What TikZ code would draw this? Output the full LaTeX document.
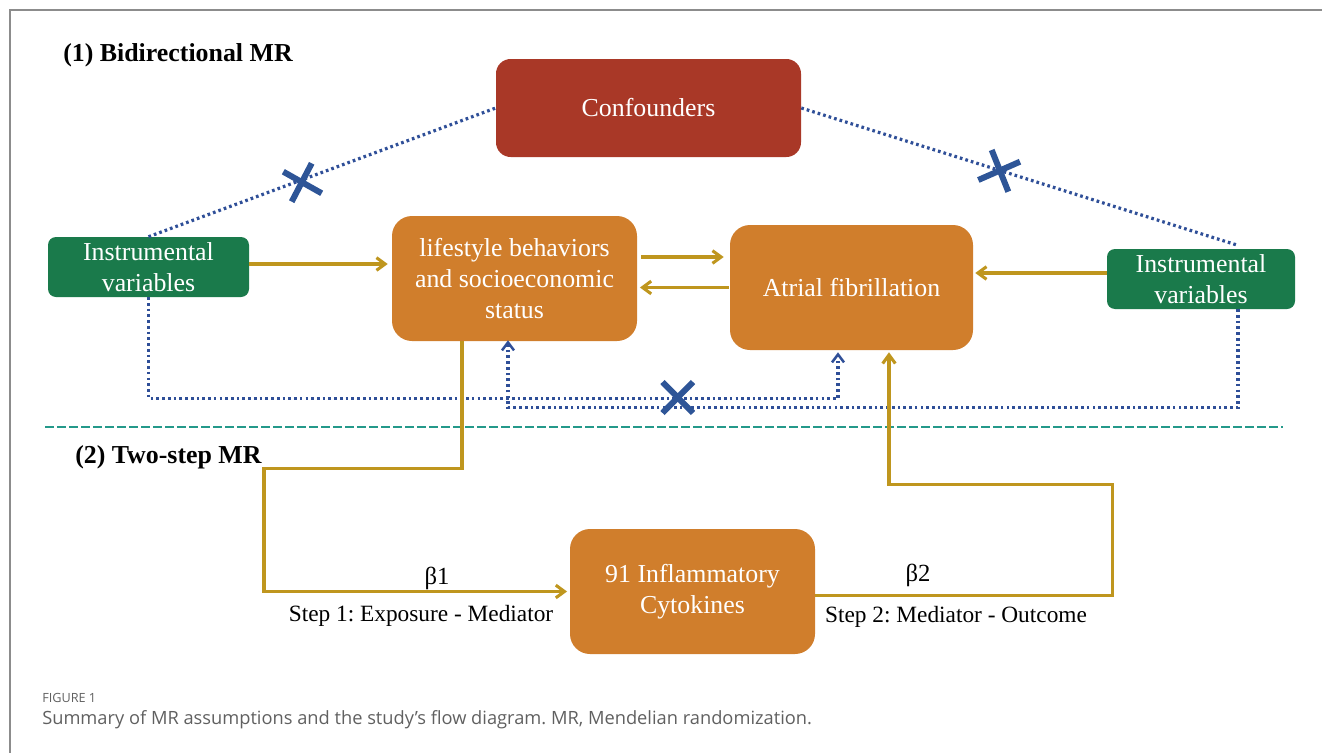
\documentclass[tikz,border=0pt]{standalone}
\usepackage{fontspec}
\setmainfont{Liberation Serif}
\newfontfamily\capfont{Open Sans}
\usetikzlibrary{arrows.meta,calc}
\frenchspacing
\definecolor{confred}{HTML}{A93827}
\definecolor{boxorange}{HTML}{D07E2C}
\definecolor{ivgreen}{HTML}{1A7A4B}
\definecolor{goldline}{HTML}{BF961E}
\definecolor{dotblue}{HTML}{2F4F98}
\definecolor{crossblue}{HTML}{2E5597}
\definecolor{tealline}{HTML}{24998A}
\definecolor{framegray}{HTML}{8C8C8C}
\definecolor{capgray}{HTML}{606060}
\begin{document}
\frenchspacing
\begin{tikzpicture}[x=0.75pt,y=-0.75pt,
  box/.style={rounded corners=#1, inner sep=0pt, text=white, align=center,
    font=\fontsize{19.4}{23.2}\selectfont},
  goldarrow/.style={draw=goldline, line width=2.3pt,
    -{Straight Barb[length=6.5pt,width=9.5pt]}},
  dotline/.style={draw=dotblue, line width=2.4pt, dash pattern=on 2pt off 2.3pt},
  dotarrow/.style={dotline, -{Straight Barb[length=6pt,width=9pt,line width=1.9pt]}},
  crossline/.style={draw=crossblue, line width=4.5pt},
  lbl/.style={inner sep=0pt, font=\fontsize{17.5}{21}\selectfont},
  title/.style={inner sep=0pt, anchor=west, font=\fontsize{19.4}{23}\selectfont\bfseries}
]
\useasboundingbox (0,0) rectangle (1322,753);
\draw[framegray, line width=1.2pt] (10,753) -- (10,10) -- (1322,10);

% nodes
\node[box=11pt, fill=confred, minimum width=305*0.75pt, minimum height=98*0.75pt] (conf) at (648.5,108) {Confounders};
\node[box=6pt, fill=ivgreen, minimum width=201*0.75pt, minimum height=60*0.75pt] (ivL) at (148.5,267) {Instrumental\\variables};
\node[box=15pt, fill=boxorange, minimum width=245*0.75pt, minimum height=125*0.75pt] (life) at (514.5,278.5) {lifestyle behaviors\\and socioeconomic\\status};
\node[box=15pt, fill=boxorange, minimum width=243*0.75pt, minimum height=125*0.75pt] (af) at (851.5,287.5) {Atrial fibrillation};
\node[box=6pt, fill=ivgreen, minimum width=188*0.75pt, minimum height=60*0.75pt] (ivR) at (1201,279) {Instrumental\\variables};
\node[box=15pt, fill=boxorange, minimum width=245*0.75pt, minimum height=125*0.75pt] (cyto) at (692.5,591.5) {91 Inflammatory\\Cytokines};

% titles
\node[title] (t1) at (63,55) {(1) Bidirectional MR};
\node[title] (t2) at (75,457) {(2) Two-step MR};

% separator
\draw[tealline, line width=2.2pt, dash pattern=on 6.5pt off 2.5pt] (45,427) -- (1283,427);

% dotted confounder links
\draw[dotline] (ivL.north) -- (conf.west);
\coordinate (ivRtop) at ($(ivR.north)+(35,-4)$);
\draw[dotline] (conf.east) -- (ivRtop);

% dotted IV links to outcome
\draw[dotarrow] (ivL.south) -- ++(0,101) -| ($(af.south)+(-13.5,2)$);
\coordinate (ivRbot) at ($(ivR.south)+(37,0)$);
\draw[dotarrow] (ivRbot) -- ++(0,98) -| ($(life.south)+(-6.5,-1)$);

% crosses
\draw[crossline] (283.3,171.7) -- (321.7,193.3);
\draw[crossline] (311.7,163.3) -- (291.7,201.7);
\draw[crossline] (991.7,150) -- (1008.3,191.7);
\draw[crossline] (978.3,180) -- (1020,161.7);
\draw[crossline] (662.5,382) -- (693,413);
\draw[crossline] (693,382) -- (662.5,413);

% gold arrows
\coordinate (a1) at ($(ivL.east)+(0,-3)$);
\draw[goldarrow, shorten >=3pt] (a1) -- (a1 -| life.west);
\coordinate (a2) at ($(life.east)+(4,-21.5)$);
\draw[goldarrow, shorten >=4.5pt] (a2) -- (a2 -| af.west);
\coordinate (a3) at ($(af.west)+(-1,0)$);
\draw[goldarrow, shorten >=2pt] (a3) -- (a3 -| life.east);
\coordinate (a4) at ($(ivR.west)+(0,-6)$);
\draw[goldarrow, shorten >=1.5pt] (a4) -- (a4 -| af.east);

% two-step paths
\coordinate (s1) at ($(life.south)+(-52.5,0)$);
\draw[goldarrow, shorten >=2pt] (s1) -- ++(0,127) -- ++(-198,0) |- (cyto.west);
\coordinate (s2) at ($(cyto.east)+(0,4)$);
\draw[goldarrow] (s2) -- ++(297,0) -- ++(0,-111) -| ($(af.south)+(37.5,2)$);

% labels
\node[lbl, font=\fontsize{18.5}{21}\selectfont] (b1) at (437,578) {β1};
\node[lbl, font=\fontsize{18.5}{21}\selectfont] (b2) at (918,575) {β2};
\node[lbl] (st1) at (421,616) {Step 1: Exposure - Mediator};
\node[lbl] (st2) at (956,617) {Step 2: Mediator - Outcome};

% caption
\node[inner sep=0pt, anchor=west, text=capgray, font=\capfont\fontsize{9.5}{11}\selectfont] (fig) at (42,698) {FIGURE 1};
\node[inner sep=0pt, anchor=west, text=capgray, font=\capfont\fontsize{13.7}{16}\selectfont] (cap) at (42,720) {Summary of MR assumptions and the study’s flow diagram. MR, Mendelian randomization.};
\end{tikzpicture}
\end{document}
